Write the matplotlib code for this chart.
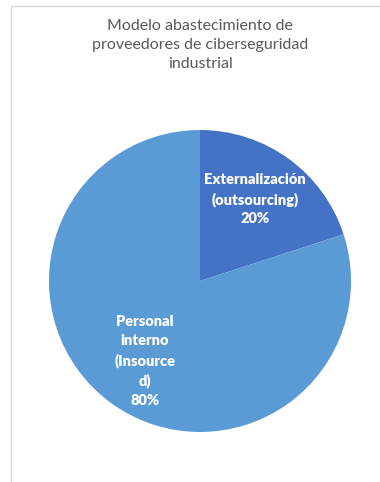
import matplotlib
matplotlib.use("Agg")
import matplotlib.pyplot as plt

# data
labels = ["Externalización\n(outsourcing)", "Personal\ninterno\n(Insource\nd)"]
values = [20, 80]
colors = ["#4472C4", "#5B9BD5"]
title = "Modelo abastecimiento de\nproveedores de ciberseguridad\nindustrial"

W, H = 380, 482
fig = plt.figure(figsize=(W / 100, H / 100), dpi=100)
ax = fig.add_axes([0, 0, 1, 1])

# pie in pixel coordinates (y measured from bottom)
cx, cy, r = 200, H - 281, 151
wedges, _ = ax.pie(values, colors=colors, startangle=90, counterclock=False,
                   center=(cx, cy), radius=r,
                   wedgeprops=dict(linewidth=0))
ax.set_xlim(0, W)
ax.set_ylim(0, H)
ax.set_aspect("equal")
ax.axis("off")

# slice labels
lbl_pos = [(255, H - 199), (145, H - 361)]
for lab, v, (x, y) in zip(labels, values, lbl_pos):
    ax.text(x, y, lab + "\n" + f"{v}%", ha="center", va="center",
            color="white", fontsize=10.5, fontweight="heavy",
            family="Lato", linespacing=1.5)

# title
ax.text(200, H - 45, title, ha="center", va="center", color="#595959",
        fontsize=11.5, family="Lato", linespacing=1.5)

# chart frame (cropped at right and bottom)
ax.plot([10.5, 10.5], [0, H - 5.5], color="#d9d9d9", lw=1, solid_capstyle="butt")
ax.plot([10.5, W], [H - 5.5, H - 5.5], color="#d9d9d9", lw=1, solid_capstyle="butt")

fig.savefig("out.png", dpi=100)
